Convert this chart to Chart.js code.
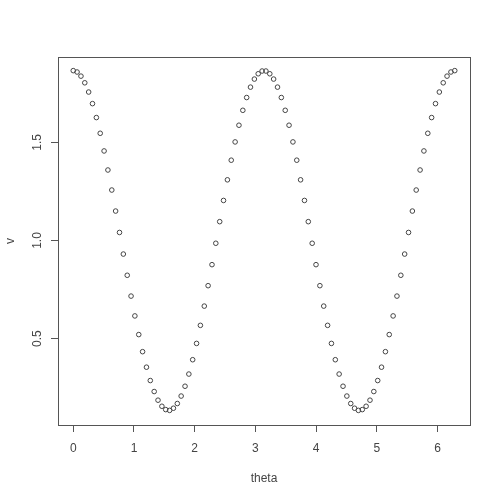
<!DOCTYPE html>
<html>
<head>
<meta charset="utf-8">
<script src="https://cdn.jsdelivr.net/npm/chart.js@4"></script>
<style>
html,body{margin:0;padding:0;background:#fff;}
#wrap{width:500px;height:499px;}
</style>
</head>
<body>
<div id="wrap"><canvas id="c" width="500" height="499"></canvas></div>
<script>
const theta = [0, 0.063, 0.127, 0.190, 0.254, 0.317, 0.381, 0.444, 0.508, 0.571, 0.635, 0.698, 0.762, 0.825, 0.889, 0.952, 1.015, 1.079, 1.142, 1.206, 1.269, 1.333, 1.396, 1.460, 1.523, 1.587, 1.650, 1.714, 1.777, 1.841, 1.904, 1.967, 2.031, 2.094, 2.158, 2.221, 2.285, 2.348, 2.412, 2.475, 2.539, 2.602, 2.666, 2.729, 2.793, 2.856, 2.919, 2.983, 3.046, 3.110, 3.173, 3.237, 3.300, 3.364, 3.427, 3.491, 3.554, 3.618, 3.681, 3.744, 3.808, 3.871, 3.935, 3.998, 4.062, 4.125, 4.189, 4.252, 4.316, 4.379, 4.443, 4.506, 4.570, 4.633, 4.696, 4.760, 4.823, 4.887, 4.950, 5.014, 5.077, 5.141, 5.204, 5.268, 5.331, 5.395, 5.458, 5.522, 5.585, 5.648, 5.712, 5.775, 5.839, 5.902, 5.966, 6.029, 6.093, 6.156, 6.220, 6.283];
const v = [1.865, 1.858, 1.837, 1.803, 1.756, 1.697, 1.626, 1.546, 1.456, 1.359, 1.257, 1.150, 1.041, 0.931, 0.823, 0.717, 0.616, 0.521, 0.434, 0.355, 0.287, 0.231, 0.187, 0.156, 0.139, 0.135, 0.146, 0.170, 0.208, 0.258, 0.320, 0.393, 0.476, 0.568, 0.666, 0.770, 0.877, 0.986, 1.096, 1.204, 1.309, 1.409, 1.502, 1.587, 1.663, 1.728, 1.781, 1.822, 1.849, 1.863, 1.863, 1.849, 1.822, 1.781, 1.728, 1.663, 1.587, 1.502, 1.409, 1.309, 1.204, 1.096, 0.986, 0.877, 0.770, 0.666, 0.568, 0.476, 0.393, 0.320, 0.258, 0.208, 0.170, 0.146, 0.135, 0.139, 0.156, 0.187, 0.231, 0.287, 0.355, 0.434, 0.521, 0.616, 0.717, 0.823, 0.931, 1.041, 1.150, 1.257, 1.359, 1.456, 1.546, 1.626, 1.697, 1.756, 1.803, 1.837, 1.858, 1.865];
const xTicks = [0, 1, 2, 3, 4, 5, 6];
const yTicks = [0.5, 1.0, 1.5];
const xLabel = "theta";
const yLabel = "v";

const points = theta.map((t, i) => ({x: t, y: v[i]}));
const textColor = '#444';
const lineColor = '#555';
const font = {family: 'Liberation Sans, Arial, sans-serif', size: 12};

const boxPlugin = {
  id: 'box',
  afterDraw(chart) {
    const a = chart.chartArea, ctx = chart.ctx;
    ctx.save();
    ctx.strokeStyle = lineColor;
    ctx.lineWidth = 1;
    ctx.strokeRect(Math.round(a.left) + 0.5, Math.round(a.top) + 0.5,
                   Math.round(a.right - a.left), Math.round(a.bottom - a.top));
    ctx.restore();
  }
};

new Chart(document.getElementById('c'), {
  type: 'scatter',
  data: {
    datasets: [{
      data: points,
      showLine: false,
      pointStyle: 'circle',
      pointRadius: 2.3,
      pointHoverRadius: 2.3,
      pointBorderWidth: 1,
      pointBorderColor: '#444',
      pointBackgroundColor: 'rgba(0,0,0,0)'
    }]
  },
  options: {
    responsive: false,
    animation: false,
    events: [],
    layout: {padding: {left: 0, right: 30, top: 57, bottom: 0}},
    plugins: {legend: {display: false}, tooltip: {enabled: false}},
    scales: {
      x: {
        type: 'linear',
        min: -0.251, max: 6.534,
        afterBuildTicks(s) { s.ticks = xTicks.map(t => ({value: t})); },
        afterFit(s) { s.height = 74; },
        grid: {drawOnChartArea: false, drawTicks: true, tickLength: 7, color: lineColor},
        border: {display: true, color: lineColor},
        ticks: {color: textColor, font: font, padding: 9, maxRotation: 0,
                callback: (val) => String(val)},
        title: {display: true, text: xLabel, color: textColor, font: font, padding: {top: 0, bottom: 13}}
      },
      y: {
        type: 'linear',
        min: 0.0606, max: 1.9344,
        afterBuildTicks(s) { s.ticks = yTicks.map(t => ({value: t})); },
        afterFit(s) { s.width = 58; },
        grid: {drawOnChartArea: false, drawTicks: true, tickLength: 7, color: lineColor},
        border: {display: true, color: lineColor},
        ticks: {color: textColor, font: font, padding: 5, minRotation: 90, maxRotation: 90,
                crossAlign: 'center',
                callback: (val) => Number(val).toFixed(1)},
        title: {display: true, text: yLabel, color: textColor, font: font, padding: {top: 3, bottom: 0}}
      }
    }
  },
  plugins: [boxPlugin]
});
</script>
</body>
</html>
